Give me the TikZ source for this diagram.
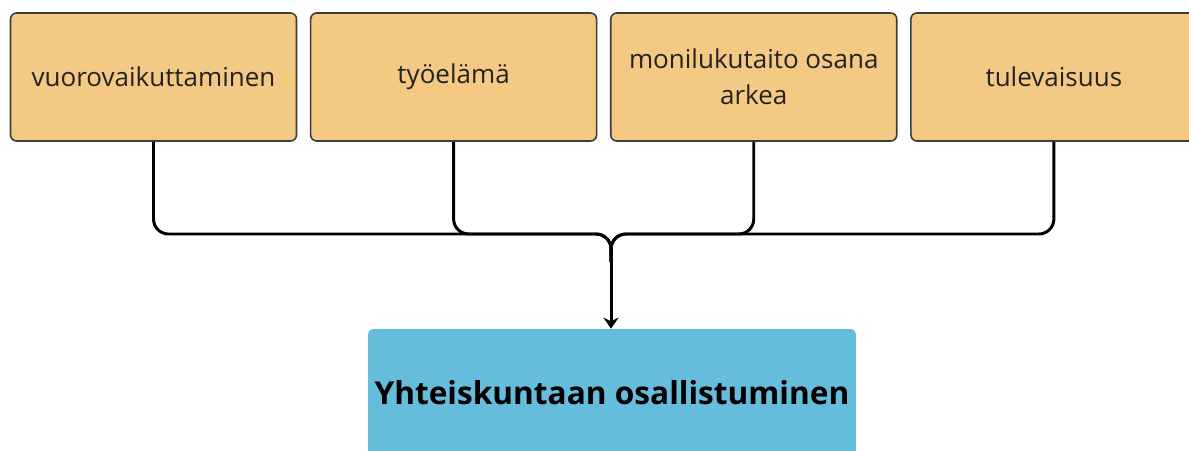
\documentclass[tikz,border=0pt]{standalone}
\usepackage{fontspec}
\setmainfont{Open Sans}
\usetikzlibrary{arrows.meta, positioning}
\definecolor{sand}{HTML}{F4C983}
\definecolor{sky}{HTML}{66BCDB}
\definecolor{ink}{HTML}{222222}
\definecolor{rim}{HTML}{3C3C3C}

\begin{document}
\begin{tikzpicture}[x=0.02cm, y=-0.02cm,
    box/.style={rectangle, draw=rim, line width=0.9pt, fill=sand, rounded corners=0.12cm, minimum width=5.72cm, minimum height=2.56cm, align=center, text=ink, font=\fontsize{14.8}{20.5}\selectfont},
    goalbox/.style={rectangle, fill=sky, rounded corners=0.1cm, minimum width=9.76cm, minimum height=2.56cm, align=center, font=\fontsize{18}{22}\selectfont\bfseries},
    link/.style={line width=1.7pt, rounded corners=0.3cm},
    arrow/.style={-{Stealth[length=0.22cm, width=0.3cm]}, line width=1.7pt}
]
\useasboundingbox (0,0) rectangle (1189,450);
\clip (0,0) rectangle (1189,450);

\node[box] (b1) at (153.5,77) {vuorovaikuttaminen};
\node[box, right=0.252cm of b1] (b2) {työelämä};
\node[box, right=0.252cm of b2] (b3) {monilukutaito osana\\arkea};
\node[box, right=0.252cm of b3] (b4) {tulevaisuus};

\node[goalbox] (goal) at (612,393) {Yhteiskuntaan osallistuminen};

\coordinate (join) at (611,234);
\coordinate (drop) at (611,262);
\foreach \b in {b1,b2,b3,b4}
    \draw[link] (\b.south) |- (join) -- (drop);
\draw[arrow] (drop) -- (drop |- goal.north);

\end{tikzpicture}
\end{document}
